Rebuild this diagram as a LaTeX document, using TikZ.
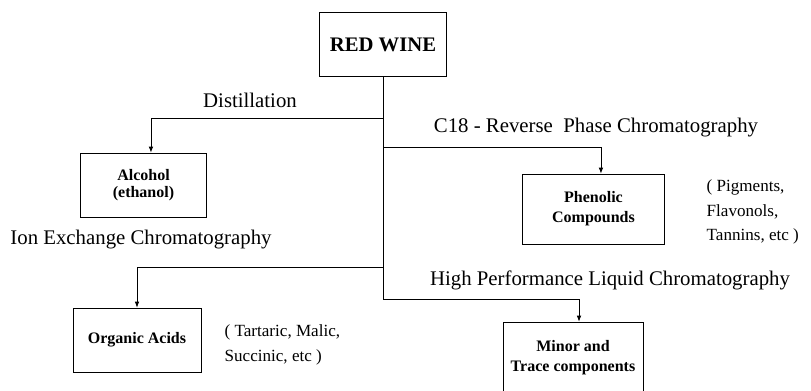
\documentclass[tikz,border=0pt]{standalone}
\usepackage{fontspec}
\setmainfont{Liberation Serif}
\usetikzlibrary{arrows.meta}

\begin{document}
\begin{tikzpicture}[x=0.75pt,y=-0.75pt,
  box/.style={draw, line width=0.6pt, align=center, font=\fontsize{12}{14}\selectfont\bfseries},
  flow/.style={line width=0.6pt, -{Latex[length=4.5pt,width=3.5pt]}},
  method/.style={font=\fontsize{15.6}{18}\selectfont},
  note/.style={align=left, font=\fontsize{12.8}{18.5}\selectfont}]
\clip (0,0) rectangle (811,390);
% boxes
\node[box, minimum width=95pt, minimum height=48pt, font=\fontsize{15.5}{18}\selectfont\bfseries] (wine) at (383,44.5) {RED WINE};
\node[box, minimum width=95pt, minimum height=48pt, font=\fontsize{12}{12.5}\selectfont\bfseries] (alcohol) at (143.5,185) {Alcohol\\(ethanol)};
\node[box, minimum width=106pt, minimum height=52.5pt, font=\fontsize{12}{15}\selectfont\bfseries] (phenolic) at (593.5,209) {Phenolic\\Compounds};
\node[box, minimum width=96pt, minimum height=48pt] (acids) at (137,340) {Organic Acids};
\node[box, minimum width=105pt, minimum height=54pt, font=\fontsize{12}{15}\selectfont\bfseries] (minor) at (573,358) {Minor and\\Trace components};
% branch points on the trunk
\coordinate (j1) at (383,118);
\coordinate (j2) at (383,147);
\coordinate (j3) at (383,267);
\coordinate (j4) at (383,299);
\draw[line width=0.6pt] (wine.south) -- (j4);
\draw[flow] (j1) -| ([xshift=5.6pt]alcohol.north);
\draw[flow] (j2) -| ([xshift=5.6pt]phenolic.north);
\draw[flow] (j3) -| (acids.north);
\draw[flow] (j4) -| ([xshift=4.5pt]minor.north);
% separation methods
\node[method] (dist) at (250,100) {Distillation};
\node[method] (rp) at (596,128) {C18 - Reverse\ \ Phase Chromatography};
\node[method] (ion) at (141,240) {Ion Exchange Chromatography};
\node[method] (hplc) at (610,280) {High Performance Liquid Chromatography};
% examples of each class
\node[note, anchor=west] (pig) at (702,212) {( Pigments,\\Flavonols,\\Tannins, etc )};
\node[note, anchor=west] (tart) at (220,345) {( Tartaric, Malic,\\Succinic, etc )};
\end{tikzpicture}
\end{document}
